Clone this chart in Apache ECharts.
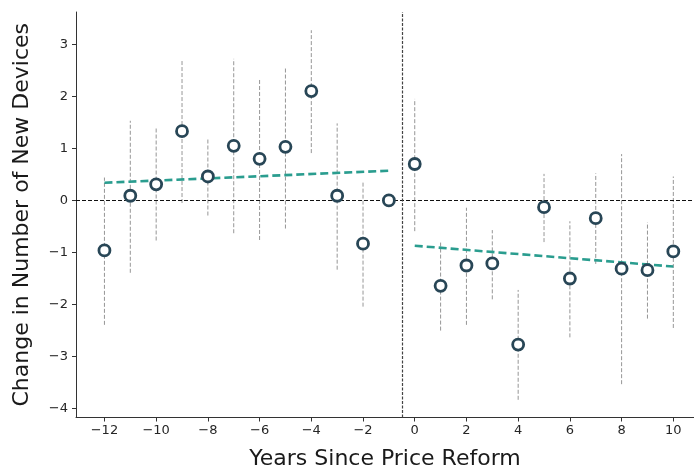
<!DOCTYPE html>
<html>
<head>
<meta charset="utf-8">
<script src="https://cdn.jsdelivr.net/npm/echarts@6/dist/echarts.min.js"></script>
<style>
  html, body { margin: 0; padding: 0; background: #fff; }
  #chart { width: 694px; height: 472px; }
</style>
</head>
<body>
<div id="chart"></div>
<script>
// Event-study estimates: years relative to the price reform
const years = [-12, -11, -10, -9, -8, -7, -6, -5, -4, -3, -2, -1, 0, 1, 2, 3, 4, 5, 6, 7, 8, 9, 10];
const estimates = [-0.96, 0.09, 0.31, 1.33, 0.46, 1.05, 0.80, 1.03, 2.10, 0.09, -0.83, 0.00,
                   0.70, -1.64, -1.25, -1.21, -2.77, -0.13, -1.50, -0.34, -1.31, -1.34, -0.98];
// Confidence interval bounds (null where the year is the reference period)
const ciLow = [-2.39, -1.39, -0.77, -0.05, -0.29, -0.63, -0.76, -0.54, 0.91, -1.33, -2.04, null,
               -0.59, -2.50, -2.39, -1.90, -3.83, -0.80, -2.63, -1.22, -3.53, -2.27, -2.45];
const ciHigh = [0.44, 1.53, 1.39, 2.68, 1.19, 2.72, 2.33, 2.57, 3.27, 1.48, 0.37, null,
                1.95, -0.80, -0.14, -0.57, -1.72, 0.51, -0.40, 0.52, 0.89, -0.42, 0.46];
// Linear fits before and after the reform
const preTrend = [[-12, 0.34], [-1, 0.57]];
const postTrend = [[0, -0.87], [10, -1.27]];
const reformLine = -0.5;
const xTicks = [-12, -10, -8, -6, -4, -2, 0, 2, 4, 6, 8, 10];
const yTicks = [-4, -3, -2, -1, 0, 1, 2, 3];

const FONT = 'DejaVu Sans';
const minus = v => String(v).replace('-', '\u2212');

const points = years.map((y, i) => [y, estimates[i]]);
const bars = years.map((y, i) => [y, ciLow[i], ciHigh[i]]).filter(d => d[1] !== null);

const chart = echarts.init(document.getElementById('chart'), null, { renderer: 'canvas' });
chart.setOption({
  animation: false,
  backgroundColor: '#fff',
  grid: { left: 76, right: 0, top: 12, bottom: 54.5, outerBoundsMode: 'none', containLabel: false },
  xAxis: {
    type: 'value', min: -13.1, max: 10.8,
    name: 'Years Since Price Reform', nameLocation: 'middle', nameGap: 31,
    nameTextStyle: { fontFamily: FONT, fontSize: 22, color: '#1a1a1a', verticalAlign: 'top' },
    axisLine: { show: true, onZero: false, lineStyle: { color: '#333', width: 1 } },
    axisTick: { show: true, length: 4, customValues: xTicks, lineStyle: { color: '#333' } },
    axisLabel: { customValues: xTicks, formatter: minus, fontFamily: FONT, fontSize: 13, color: '#262626', margin: 7 },
    splitLine: { show: false }
  },
  yAxis: {
    type: 'value', min: -4.17, max: 3.62,
    name: 'Change in Number of New Devices', nameLocation: 'middle', nameGap: 43,
    nameTextStyle: { fontFamily: FONT, fontSize: 22, color: '#1a1a1a' },
    axisLine: { show: true, onZero: false, lineStyle: { color: '#333', width: 1 } },
    axisTick: { show: true, length: 4, customValues: yTicks, lineStyle: { color: '#333' } },
    axisLabel: { customValues: yTicks, formatter: minus, fontFamily: FONT, fontSize: 13, color: '#262626', margin: 8 },
    splitLine: { show: false }
  },
  series: [
    {
      // reference lines: zero effect and reform date
      type: 'line', data: [], silent: true,
      markLine: {
        silent: true, symbol: 'none', label: { show: false },
        data: [
          { yAxis: 0, lineStyle: { color: '#111', type: [4, 2], width: 1 } },
          { xAxis: reformLine, lineStyle: { color: '#444', type: [3, 1.5], width: 1.2 } }
        ]
      }
    },
    {
      // confidence intervals
      type: 'custom', data: bars, z: 2, silent: true,
      renderItem: (params, api) => {
        const lo = api.coord([api.value(0), api.value(1)]);
        const hi = api.coord([api.value(0), api.value(2)]);
        return {
          type: 'line',
          shape: { x1: lo[0], y1: lo[1], x2: hi[0], y2: hi[1] },
          style: { stroke: '#8a8a8a', lineWidth: 0.9, lineDash: [4, 2] }
        };
      }
    },
    {
      type: 'line', data: preTrend, symbol: 'none', z: 3,
      lineStyle: { color: '#2a9d8f', width: 2.6, type: [8, 4] }
    },
    {
      type: 'line', data: postTrend, symbol: 'none', z: 3,
      lineStyle: { color: '#2a9d8f', width: 2.6, type: [8, 4] }
    },
    {
      type: 'scatter', data: points, z: 5,
      symbol: 'circle', symbolSize: 11,
      itemStyle: { color: '#ffffff', borderColor: '#284656', borderWidth: 2.8, opacity: 1 }
    }
  ]
});
</script>
</body>
</html>
